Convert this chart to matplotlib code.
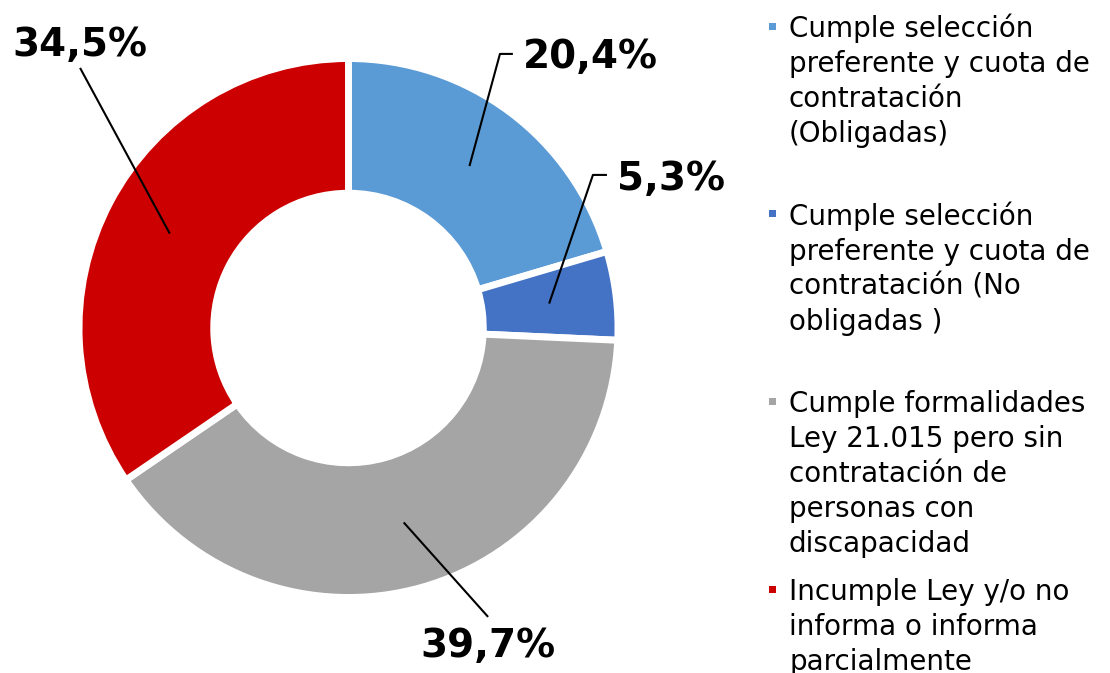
import numpy as np
import matplotlib
matplotlib.use("Agg")
import matplotlib.pyplot as plt

# datos
categorias = [
    "Cumple selección\npreferente y cuota de\ncontratación\n(Obligadas)",
    "Cumple selección\npreferente y cuota de\ncontratación (No\nobligadas )",
    "Cumple formalidades\nLey 21.015 pero sin\ncontratación de\npersonas con\ndiscapacidad",
    "Incumple Ley y/o no\ninforma o informa\nparcialmente",
]
porcentajes = [20.4, 5.3, 39.7, 34.5]
etiquetas = ["20,4%", "5,3%", "39,7%", "34,5%"]
colores = ["#5B9BD5", "#4472C4", "#A5A5A5", "#CC0000"]

# layout de etiquetas (coordenadas del eje, radio exterior = 1)
pos_texto = [(0.647, 0.965, "left"), (0.996, 0.512, "left"),
             (0.519, -1.221, "center"), (-0.998, 1.009, "center")]
codos = [[(0.562, 1.017), (0.610, 1.017)],
         [(0.907, 0.568), (0.959, 0.568)],
         [(0.518, -1.072)],
         [(-0.996, 0.965)]]

W, H = 1110, 673
fig = plt.figure(figsize=(W / 100, H / 100), dpi=100)
cx, cy, R = 348.5, 328, 269.5
ax = fig.add_axes([(cx - R) / W, (H - cy - R) / H, 2 * R / W, 2 * R / H])

wedges, _ = ax.pie(porcentajes, colors=colores, startangle=90, counterclock=False,
                   radius=1, wedgeprops=dict(width=0.5, edgecolor="white", linewidth=5))
ax.set_xlim(-1, 1)
ax.set_ylim(-1, 1)

for w, lab, (tx, ty, ha), pts in zip(wedges, etiquetas, pos_texto, codos):
    ang = np.deg2rad((w.theta1 + w.theta2) / 2)
    ax0 = 0.75 * np.cos(ang)
    ay0 = 0.75 * np.sin(ang)
    xs = [ax0] + [p[0] for p in pts]
    ys = [ay0] + [p[1] for p in pts]
    ax.plot(xs, ys, color="black", lw=1.5, clip_on=False, solid_capstyle="butt")
    ax.text(tx, ty, lab, ha=ha, va="baseline", fontsize=28, fontweight="bold",
            color="black", clip_on=False)

# leyenda manual
x_txt = 789 / W
base0 = 37
paso_entrada = 187.7
paso_linea = 35
for i, (cat, col) in enumerate(zip(categorias, colores)):
    b = base0 + i * paso_entrada
    fig.patches.append(plt.Rectangle(((772.5 - 3.5) / W, 1 - (b - 11 + 3.5) / H),
                                     7 / W, 7 / H, transform=fig.transFigure,
                                     facecolor=col, edgecolor="none"))
    for j, linea in enumerate(cat.split("\n")):
        fig.text(x_txt, 1 - (b + j * paso_linea) / H, linea, ha="left",
                 va="baseline", fontsize=20, color="black")

fig.savefig("out.png", dpi=100)
